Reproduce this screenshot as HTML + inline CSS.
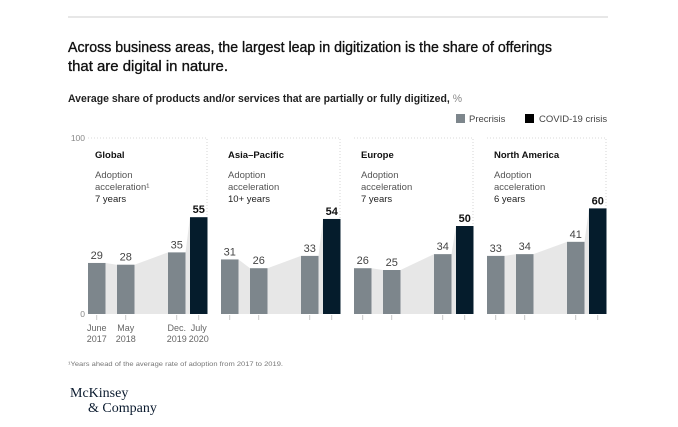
<!DOCTYPE html>
<html><head><meta charset="utf-8"><style>
html,body{margin:0;padding:0;background:#fff;}
svg{display:block;font-family:"Liberation Sans",sans-serif;}
</style></head><body>
<svg id="chart" width="678" height="427" viewBox="0 0 678 427">
<line x1="68" y1="17" x2="608" y2="17" stroke="#cfcfcf" stroke-width="1"/>
<text x="68" y="52" font-size="15" fill="#111" stroke="#111" stroke-width="0.35" textLength="484" lengthAdjust="spacingAndGlyphs">Across business areas, the largest leap in digitization is the share of offerings</text>
<text x="68" y="71" font-size="15" fill="#111" stroke="#111" stroke-width="0.35" textLength="160" lengthAdjust="spacingAndGlyphs">that are digital in nature.</text>
<text x="68" y="102" font-size="11" font-weight="bold" fill="#222" textLength="394" lengthAdjust="spacingAndGlyphs">Average share of products and/or services that are partially or fully digitized, <tspan fill="#888" font-weight="normal">%</tspan></text>
<rect x="456" y="114" width="9" height="9" fill="#7d868c"/>
<text x="469" y="122" font-size="9.5" fill="#444">Precrisis</text>
<rect x="525" y="114" width="9" height="9" fill="#000"/>
<text x="539" y="122" font-size="9.5" fill="#444">COVID-19 crisis</text>
<text x="85" y="141" font-size="8.5" fill="#888" text-anchor="end">100</text>
<text x="85" y="317" font-size="8.5" fill="#888" text-anchor="end">0</text>
<g id="panels"></g>
<text x="68" y="366" font-size="6" fill="#777" textLength="215" lengthAdjust="spacingAndGlyphs">¹Years ahead of the average rate of adoption from 2017 to 2019.</text>
<text x="70" y="397" font-family="Liberation Serif,serif" font-size="14" fill="#0a1a2e">McKinsey</text>
<text x="88" y="412" font-family="Liberation Serif,serif" font-size="14" fill="#0a1a2e">&amp; Company</text>
</svg>
<script>
const regions = ["Global","Asia–Pacific","Europe","North America"];
const years = ["7 years","10+ years","7 years","6 years"];
const values = [[29,28,35,55],[31,26,33,54],[26,25,34,50],[33,34,41,60]];
const periodTop = ["June","May","Dec.","July"];
const periodBottom = ["2017","2018","2019","2020"];
const NS="http://www.w3.org/2000/svg";
const g=document.getElementById('panels');
const base=314, top0=138;
function y(v){return base-(base-top0)*v/100;}
const panelX=[88,221,354,487], offs=[0,29,80,102], bw=17.5, pw=119;
function mk(tag,attrs){const e=document.createElementNS(NS,tag);for(const k in attrs)e.setAttribute(k,attrs[k]);g.appendChild(e);return e;}
regions.forEach((r,i)=>{
  const px=panelX[i], v=values[i];
  const border=mk('path',{d:`M${px} ${top0}H${px+pw}V${base}`,fill:'none',stroke:'#ccc','stroke-dasharray':'1,2','stroke-width':0.8});
  
  
  let pts=`${px},${base} `;
  v.forEach((val,j)=>{const x=px+offs[j];pts+=`${x},${y(val)} ${x+bw},${y(val)} `;});
  pts+=`${px+offs[3]+bw},${base}`;
  const area=mk('polygon',{points:pts,fill:'#e7e7e7'});
  
  
  const t=mk('text',{x:px+7,y:158,'font-size':9.5,'font-weight':'bold',fill:'#111'});t.textContent=r;
  
  
  const a1=mk('text',{x:px+7,y:178,'font-size':9.5,fill:'#555'});a1.textContent='Adoption';
  
  
  const a2=mk('text',{x:px+7,y:190,'font-size':9.5,fill:'#555'});a2.textContent='acceleration'+(i===0?'¹':'');
  
  
  const a3=mk('text',{x:px+7,y:202,'font-size':9.5,fill:'#222'});a3.textContent=years[i];
  
  
  v.forEach((val,j)=>{
    const x=px+offs[j];
    const b=mk('rect',{x:x,y:y(val),width:bw,height:base-y(val),fill:j===3?'#051c2c':'#7d868c'});
    
    
    const l=mk('text',{x:x+bw/2,y:y(val)-4,'font-size':11,'font-weight':j===3?'bold':'normal',fill:j===3?'#111':'#444','text-anchor':'middle'});
    l.textContent=val;
    
    
    const tk=mk('line',{x1:x+bw/2,y1:base+1,x2:x+bw/2,y2:base+6,stroke:'#bbb','stroke-width':0.8});
    
    
    if(i===0){
      const p1=mk('text',{x:x+bw/2,y:base+17,'font-size':9,fill:'#666','text-anchor':'middle'});p1.textContent=periodTop[j];
      
      
      const p2=mk('text',{x:x+bw/2,y:base+28,'font-size':9,fill:'#666','text-anchor':'middle'});p2.textContent=periodBottom[j];
      
      
    }
  });
});
</script>
</body></html>
